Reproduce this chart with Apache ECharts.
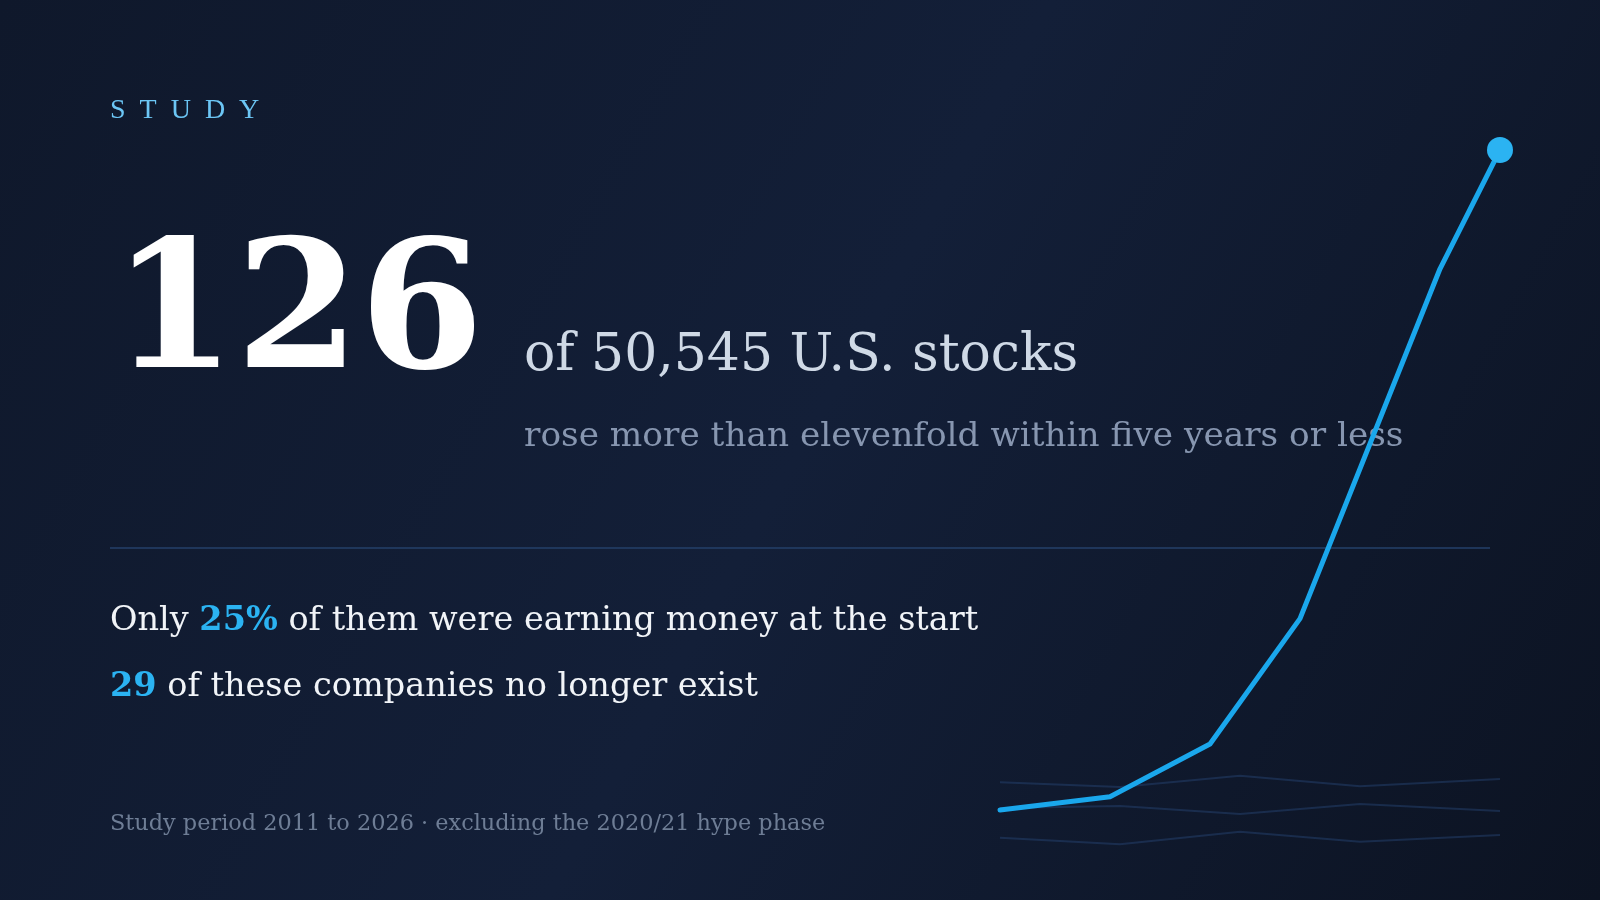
<!DOCTYPE html><html><head><meta charset="utf-8"><style>html,body{margin:0;height:100%;background:#111a2e}#c{width:1600px;height:900px}</style>
<script src="https://cdn.jsdelivr.net/npm/echarts@6/dist/echarts.min.js"></script></head><body><div id="c"></div><script>
const mainX=[0,22,42,60,88,100];
const mainY=[0,2,10,29,82,100];
const ghostX=[0,24,48,72,100];
const ghost1=[4.2,3.5,5.2,3.6,4.7];
const ghost2=[0.3,0.6,-0.6,0.9,-0.15];
const ghost3=[-4.2,-5.2,-3.3,-4.8,-3.8];
const pairs=(xs,ys)=>xs.map((x,i)=>[x,ys[i]]);
const F='"DejaVu Serif",serif';
const ch=echarts.init(document.getElementById('c'));
const ghostStyle={color:'rgba(40,70,120,0.45)',width:2};
ch.setOption({
 backgroundColor:{type:'linear',x:0,y:0,x2:1,y2:1,colorStops:[{offset:0,color:'#0f182b'},{offset:0.5,color:'#131f38'},{offset:1,color:'#0c1322'}]},
 grid:{left:1000,right:100,top:150,bottom:24},
 xAxis:{type:'value',min:0,max:100,show:false},
 yAxis:{type:'value',min:-10,max:100,show:false},
 series:[
  {type:'line',data:pairs(ghostX,ghost1),symbol:'none',lineStyle:ghostStyle,z:1},
  {type:'line',data:pairs(ghostX,ghost2),symbol:'none',lineStyle:ghostStyle,z:1},
  {type:'line',data:pairs(ghostX,ghost3),symbol:'none',lineStyle:ghostStyle,z:1},
  {type:'line',data:pairs(mainX,mainY),symbol:'none',lineStyle:{color:'#1aa7ec',width:5,cap:'round',join:'round'},z:3,
   markPoint:{symbol:'circle',symbolSize:26,itemStyle:{color:'#2bb3f2'},label:{show:false},data:[{coord:[mainX[5],mainY[5]]}]}}
 ],
 graphic:[
  {type:'text',left:110,top:97,style:{text:'S  T  U  D  Y',font:'28px "Liberation Serif",serif',fill:'#6cc6f5'}},
  {type:'text',left:112,top:232,style:{text:'126',font:'bold 178px '+F,fill:'#ffffff'}},
  {type:'text',left:524,top:330,style:{text:'of 50,545 U.S. stocks',font:'52px '+F,fill:'#cfd9e6'}},
  {type:'text',left:524,top:420,style:{text:'rose more than elevenfold within five years or less',font:'34.3px '+F,fill:'#8796b0'}},
  {type:'line',shape:{x1:110,y1:548,x2:1490,y2:548},style:{stroke:'#25406a',lineWidth:1.5}},
  {type:'text',left:110,top:604,style:{rich:{a:{font:'33.5px '+F,fill:'#f1f4f8'},b:{font:'bold 33.5px '+F,fill:'#2bb3f2'}},text:'{a|Only }{b|25%}{a| of them were earning money at the start}'}},
  {type:'text',left:110,top:670,style:{rich:{a:{font:'33.5px '+F,fill:'#f1f4f8'},b:{font:'bold 33.5px '+F,fill:'#2bb3f2'}},text:'{b|29}{a| of these companies no longer exist}'}},
  {type:'text',left:110,top:813,style:{text:'Study period 2011 to 2026 · excluding the 2020/21 hype phase',font:'22.4px '+F,fill:'#6e7d95'}}
 ]
});
</script></body></html>
